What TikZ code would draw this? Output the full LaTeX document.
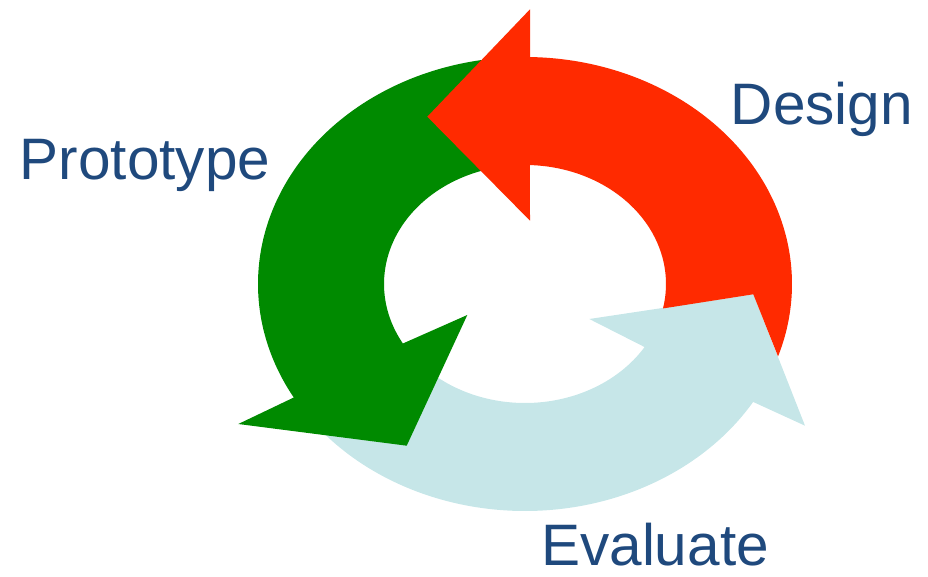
\documentclass[tikz,border=0pt]{standalone}
\usepackage{fontspec}
\setmainfont{Liberation Sans}
\usepackage{tikz}
\usetikzlibrary{calc}
\definecolor{cyclegreen}{RGB}{0,138,0}
\definecolor{cyclered}{RGB}{255,42,0}
\definecolor{cycleblue}{RGB}{198,230,232}
\definecolor{labelblue}{RGB}{31,73,125}

\begin{document}
\begin{tikzpicture}[x=1pt,y=1pt,
  phase/.style={anchor=base west,inner sep=0pt,text=labelblue,
    font=\fontsize{58.5}{58.5}\selectfont}]
\useasboundingbox (0,0) rectangle (928,576);
\coordinate (C) at (525,292);
% objects at depth 100:
\path[fill=cycleblue] ($(C)+(215:267 and 227)$)
  arc[start angle=215,end angle=328.7,x radius=267,y radius=227]
  -- (805,150.3) -- (753.3,281.7) -- (589.3,257) -- ($(C)+(328:141 and 119)$)
  arc[start angle=328,end angle=215,x radius=141,y radius=119] -- cycle;
% objects at depth 75:
\path[fill=cyclegreen] ($(C)+(96:267 and 227)$)
  arc[start angle=96,end angle=210,x radius=267,y radius=227]
  -- (238.3,152) -- (406.7,130.3) -- (467.3,261) -- ($(C)+(210:141 and 119)$)
  arc[start angle=210,end angle=96,x radius=141,y radius=119] -- cycle;
% objects at depth 50:
\path[fill=cyclered] ($(C)+(-11.85:141 and 119)$) -- (753.3,281.7)
  -- ($(C)+(-18.6:267 and 227)$)
  arc[start angle=-18.6,end angle=88.9,x radius=267,y radius=227]
  -- (530,566.7) -- (427.3,459.3) -- (530,355.3) -- ($(C)+(88:141 and 119)$)
  arc[start angle=88,end angle=-11.85,x radius=141,y radius=119] -- cycle;
% labels:
\node[phase] (design) at (730.6,451.3) {Design};
\node[phase] (prototype) at (19.6,396) {Prototype};
\node[phase] (evaluate) at (541,11) {Evaluate};
\end{tikzpicture}
\end{document}
